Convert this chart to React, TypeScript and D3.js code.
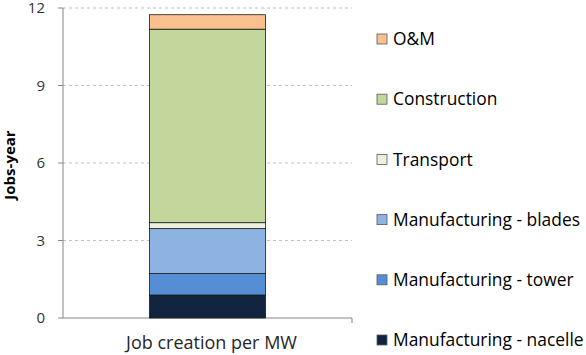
import React from "react";
import * as d3 from "d3";

const categories = ["Job creation per MW"];
const seriesNames = [
  "Manufacturing - nacelle",
  "Manufacturing - tower",
  "Manufacturing - blades",
  "Transport",
  "Construction",
  "O&M",
];
const seriesValues = [0.89, 0.83, 1.74, 0.23, 7.49, 0.56];
const seriesColors = ["#10243F", "#558ED5", "#8DB3E2", "#EBF1DE", "#C3D69B", "#FAC090"];
const yTicks = [0, 3, 6, 9, 12];

export default function App() {
  const W = 586, H = 355;
  const left = 63, right = 352, top = 8, bottom = 318;
  const y = d3.scaleLinear().domain([0, 12]).range([bottom, top]);
  const x = d3.scaleBand().domain(categories).range([left, right]).paddingInner(0).paddingOuter(0.746);
  const row: any = { cat: categories[0] };
  seriesNames.forEach((n, i) => (row[n] = seriesValues[i]));
  const stacked = d3.stack().keys(seriesNames)([row]);
  const font = "'Open Sans', sans-serif";
  const legendY = d3.scalePoint().domain([...seriesNames].reverse()).range([39, 340]);

  return (
    <svg width={W} height={H} style={{ position: "absolute", left: 0, top: 0, background: "#fff" }} fontFamily={font}>
      {yTicks.map((t) => (
        <g key={t}>
          {t !== 0 && (
            <line x1={left} x2={right} y1={y(t)} y2={y(t)} stroke="#BFBFBF" strokeWidth={1} strokeDasharray="3,3" />
          )}
          <line x1={left - 5} x2={left} y1={y(t)} y2={y(t)} stroke="#868686" />
          <text x={45} y={y(t)} dy="0.36em" textAnchor="end" fontSize={15} fill="#333">
            {t}
          </text>
        </g>
      ))}
      <line x1={left} x2={left} y1={top} y2={bottom} stroke="#868686" />
      <line x1={left} x2={right} y1={bottom} y2={bottom} stroke="#868686" />
      <line x1={right} x2={right} y1={bottom} y2={bottom + 5} stroke="#868686" />
      {stacked.map((s, i) =>
        s.map((d, j) => (
          <rect
            key={i + "-" + j}
            x={x(categories[j])!}
            width={x.bandwidth()}
            y={y(d[1])}
            height={y(d[0]) - y(d[1])}
            fill={seriesColors[i]}
            stroke="#1a1a1a"
            strokeWidth={0.8}
          />
        ))
      )}
      <text x={x(categories[0])! + x.bandwidth() / 2 + 4} y={349} textAnchor="middle" fontSize={18} fill="#262626">
        {categories[0]}
      </text>
      <text
        transform={`translate(15,165) rotate(-90)`}
        textAnchor="middle"
        fontSize={15}
        fontWeight="bold"
        fill="#000"
      >
        Jobs-year
      </text>
      {seriesNames.map((n, i) => (
        <g key={n}>
          <rect x={377} y={legendY(n)! - 5} width={10} height={10} fill={seriesColors[i]} stroke="#595959" strokeWidth={0.8} />
          <text x={393} y={legendY(n)!} dy="0.36em" fontSize={17.4} fill="#000">
            {n}
          </text>
        </g>
      ))}
    </svg>
  );
}
